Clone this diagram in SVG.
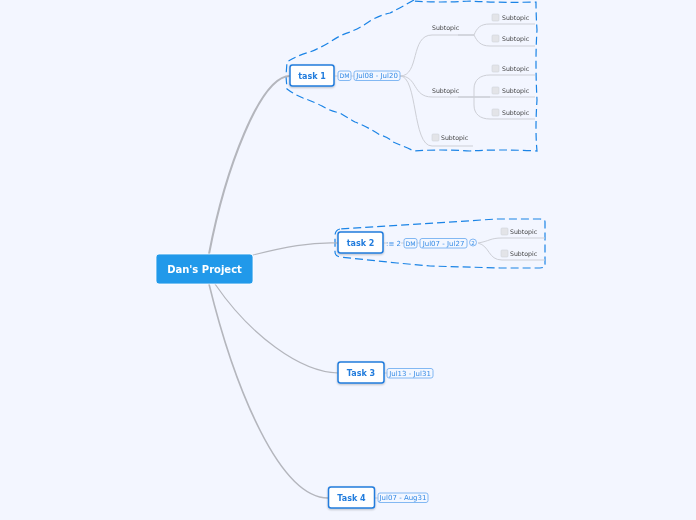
<svg xmlns="http://www.w3.org/2000/svg" width="696" height="520" viewBox="0 0 696 520">
<defs>
<style>
text{font-family:"DejaVu Sans",Verdana,sans-serif}
.lb{opacity:.97}
.l{fill:none;stroke:#cdcfd6;stroke-width:1}
.m{fill:none;stroke:#b4b6bd;stroke-width:1.2}
.b{fill:none;stroke:#1b84e6;stroke-width:1.2;stroke-dasharray:8 4}
.t{fill:#fff;stroke:#1a78dc;stroke-width:1.5}
.tt{font-size:8px;font-weight:bold;fill:#1a78dc;text-anchor:middle}
.s{font-size:6.2px;fill:#3a3a3a}
.c{fill:#e3e4e8;stroke:#cfd1d8;stroke-width:.6}
.p{fill:#f3f7ff;stroke:#72aef2;stroke-width:.9}
.pt{font-size:7px;fill:#2f88e6;text-anchor:middle}
.dm{font-size:6.2px}
</style>
<filter id="sh" x="-10%" y="-20%" width="120%" height="150%"><feDropShadow dx="0" dy="1" stdDeviation="0.8" flood-color="#000" flood-opacity="0.25"/></filter>
</defs>
<rect width="696" height="520" fill="#f3f6ff"/>
<g id="boundaries">
<path class="b" d="M414 0Q400 8 390 13Q380 15 370 21Q360 28 350 32Q340 35 330 42Q320 48 310 52Q298 55 287 62L286 76L287 89Q295 95 303 98Q312 101 322 106Q330 111 340 113Q348 118 355 122Q368 127 380 135Q388 137 393 142Q403 146 414 151Q440 149 470 151Q500 149 537 151Q535 130 537 100Q535 60 537 30Q536 15 536 2Q500 3 470 1Q440 3 414 1"/>
<path class="b" d="M340 229Q335 230 335 236V252Q335 256 340 257L397 263L430 266L500 268L540 268Q545 268 545 264V222Q545 219 540 219H497Z"/>
</g>
<g id="connectors">
<path class="m" style="stroke-width:2" d="M209 254C225 170 260 76 290 76"/>
<path class="m" d="M253 255C285 247 310 242 338 243"/>
<path class="m" d="M215 284C250 335 300 372 338 373"/>
<path class="m" style="stroke-width:1.600" d="M209 284C235 390 280 498 328 498"/>
<path class="l" d="M335 76H338M351 76H354"/>
<path class="l" d="M400 76C420 76 410 35 432 35H458"/>
<path class="l" d="M400 76C418 76 412 97 432 97H458"/>
<path class="l" d="M400 76C418 76 412 146 432 146H473"/>
<path class="m" d="M458 35H474M458 97H490"/>
<path class="l" d="M474 35C477 28 480 24 490 24H535"/>
<path class="l" d="M474 35C477 41 480 46 490 46H535"/>
<path class="l" d="M474 97V89C474 80 480 75 490 75H535"/>
<path class="l" d="M490 97H535"/>
<path class="l" d="M474 97V105C474 114 480 119 490 119H535"/>
<path class="l" d="M384 243H388M401 243H404M417 243H420"/>
<path class="l" d="M478 243C490 241 490 238 502 238H545"/>
<path class="l" d="M478 243C490 246 488 260 502 260H545"/>
<path class="l" d="M384 373H388M375 498H378"/>
</g>
<g class="lb">
<g id="root"><rect x="156" y="254" width="97" height="30" rx="3" fill="#1a96ea" stroke="#fff" stroke-width=".8"/><text x="204.500" y="272.500" text-anchor="middle" font-size="10" font-weight="bold" fill="#fff">Dan's Project</text></g>
<g id="task1">
<rect class="t" x="290" y="65" width="44" height="21" rx="2.500" filter="url(#sh)"/><text class="tt" x="312" y="79">task 1</text>
<rect class="p" x="338" y="71" width="13" height="9.500" rx="2"/><text class="pt dm" x="344.500" y="78.300">DM</text>
<rect class="p" x="354" y="71" width="46" height="9.500" rx="2"/><text class="pt" x="377" y="78.300">Jul08 - Jul20</text>
</g>
<g id="task1-a"><text class="s" x="432" y="30">Subtopic</text></g>
<g id="task1-a1"><rect class="c" x="492" y="14" width="7" height="7" rx="1"/><text class="s" x="502" y="20">Subtopic</text></g>
<g id="task1-a2"><rect class="c" x="492" y="35" width="7" height="7" rx="1"/><text class="s" x="502" y="41">Subtopic</text></g>
<g id="task1-b"><text class="s" x="432" y="93">Subtopic</text></g>
<g id="task1-b1"><rect class="c" x="492" y="65" width="7" height="7" rx="1"/><text class="s" x="502" y="71">Subtopic</text></g>
<g id="task1-b2"><rect class="c" x="492" y="87" width="7" height="7" rx="1"/><text class="s" x="502" y="93">Subtopic</text></g>
<g id="task1-b3"><rect class="c" x="492" y="109" width="7" height="7" rx="1"/><text class="s" x="502" y="115">Subtopic</text></g>
<g id="task1-c"><rect class="c" x="432" y="134" width="7" height="7" rx="1"/><text class="s" x="441" y="140">Subtopic</text></g>
<g id="task2">
<rect class="t" x="338" y="232" width="45" height="21" rx="2.500" filter="url(#sh)"/><text class="tt" x="360.500" y="246">task 2</text>
<text class="pt" x="393.500" y="245.500">:≡ 2</text>
<rect class="p" x="404" y="238.500" width="13" height="9.500" rx="2"/><text class="pt dm" x="410.500" y="245.800">DM</text>
<rect class="p" x="420" y="238.500" width="47" height="9.500" rx="2"/><text class="pt" x="443.500" y="245.800">Jul07 - Jul27</text>
<circle class="p" cx="473" cy="242.500" r="3.500"/><text class="pt" style="font-size:5.500px" x="473" y="244.500">2</text>
</g>
<g id="task2-a"><rect class="c" x="501" y="228" width="7" height="7" rx="1"/><text class="s" x="510" y="234">Subtopic</text></g>
<g id="task2-b"><rect class="c" x="501" y="250" width="7" height="7" rx="1"/><text class="s" x="510" y="256">Subtopic</text></g>
<g id="task3">
<rect class="t" x="338" y="362" width="46" height="21" rx="2.500" filter="url(#sh)"/><text class="tt" x="361" y="376">Task 3</text>
<rect class="p" x="387" y="368.500" width="46" height="9.500" rx="2"/><text class="pt" x="410" y="375.800">Jul13 - Jul31</text>
</g>
<g id="task4">
<rect class="t" x="328.500" y="487" width="46" height="21" rx="2.500" filter="url(#sh)"/><text class="tt" x="351.500" y="501">Task 4</text>
<rect class="p" x="378" y="493" width="50" height="9.500" rx="2"/><text class="pt" x="403" y="500.300">Jul07 - Aug31</text>
</g>
</g>
</svg>
